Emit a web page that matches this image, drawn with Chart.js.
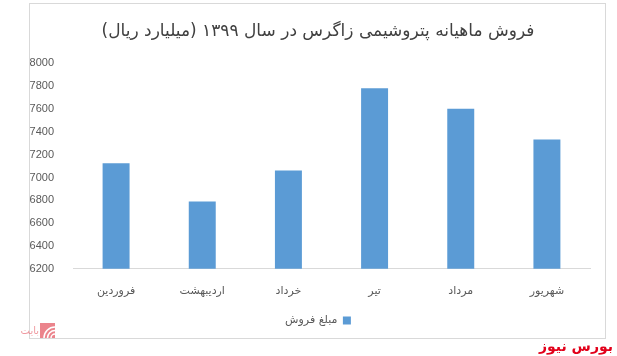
<!DOCTYPE html>
<html>
<head>
<meta charset="utf-8">
<script src="https://cdn.jsdelivr.net/npm/chart.js@4/dist/chart.umd.min.js"></script>
<style>
  html, body { margin: 0; padding: 0; background: #ffffff; }
  #wrap { width: 617px; height: 356px; position: relative; }
</style>
</head>
<body>
<div id="wrap"><canvas id="c" width="617" height="356"></canvas></div>
<script>
const titleText = "فروش ماهیانه پتروشیمی زاگرس در سال ۱۳۹۹ (میلیارد ریال)";
const categories = ["فروردین", "اردیبهشت", "خرداد", "تیر", "مرداد", "شهریور"];
const seriesName = "مبلغ فروش";
const salesValues = [7126, 6790, 7062, 7783, 7603, 7334];
const yMin = 6200;
const yMax = 8000;
const yStep = 200;

const decor = {
  id: 'decor',
  beforeDraw(chart) {
    const ctx = chart.ctx;
    ctx.save();
    ctx.fillStyle = '#ffffff';
    ctx.fillRect(0, 0, chart.width, chart.height);
    ctx.strokeStyle = '#D9D9D9';
    ctx.lineWidth = 1;
    ctx.strokeRect(29.5, 3.5, 576, 335);
    ctx.restore();
  },
  afterDraw(chart) {
    const ctx = chart.ctx;
    ctx.save();
    ctx.fillStyle = 'rgba(232,110,120,0.85)';
    ctx.fillRect(40, 323, 15, 15);
    ctx.strokeStyle = '#ffffff';
    ctx.lineWidth = 1.5;
    for (let i = 0; i < 3; i++) {
      ctx.beginPath();
      ctx.arc(55, 338, 4 + i * 3.5, Math.PI, 1.5 * Math.PI);
      ctx.stroke();
    }
    ctx.fillStyle = 'rgba(232,110,120,0.7)';
    ctx.font = '10px "DejaVu Sans"';
    ctx.textAlign = 'right';
    ctx.textBaseline = 'middle';
    ctx.fillText('بایت', 39, 331);
    ctx.fillStyle = '#E2001A';
    ctx.font = 'bold 14px "DejaVu Sans"';
    ctx.textAlign = 'right';
    ctx.textBaseline = 'middle';
    ctx.fillText('بورس نیوز', 613, 347);
    ctx.restore();
  }
};

new Chart(document.getElementById('c'), {
  type: 'bar',
  data: {
    labels: categories,
    datasets: [{
      label: seriesName,
      data: salesValues,
      backgroundColor: '#5B9BD5',
      borderWidth: 0,
      categoryPercentage: 1.0,
      barPercentage: 0.313
    }]
  },
  options: {
    responsive: false,
    animation: false,
    devicePixelRatio: 1,
    layout: { padding: { left: 30, right: 11, top: 21, bottom: 20 } },
    plugins: {
      title: {
        display: true,
        text: titleText,
        color: '#404040',
        font: { family: '"DejaVu Sans"', size: 17, weight: 'normal' },
        padding: { top: 0, bottom: 22 }
      },
      legend: {
        display: true,
        position: 'bottom',
        rtl: true,
        labels: {
          color: '#595959',
          font: { family: '"DejaVu Sans"', size: 11 },
          boxWidth: 8,
          boxHeight: 8,
          padding: 10
        }
      },
      tooltip: { enabled: false }
    },
    scales: {
      x: {
        grid: { display: false },
        border: { display: true, color: '#D9D9D9', width: 1 },
        ticks: {
          color: '#595959',
          font: { family: '"DejaVu Sans"', size: 11 },
          padding: 8,
          maxRotation: 0
        },
        afterFit(scale) { scale.height = scale.height - 1; }
      },
      y: {
        min: yMin,
        max: yMax,
        grid: { display: false },
        border: { display: false },
        ticks: {
          stepSize: yStep,
          color: '#595959',
          font: { family: '"Liberation Sans"', size: 11 },
          padding: 11,
          callback: (v) => String(v)
        },
        afterFit(scale) { scale.width = 43; }
      },
      yPad: {
        type: 'linear',
        position: 'right',
        display: true,
        grid: { display: false },
        border: { display: false },
        ticks: { display: false },
        afterFit(scale) { scale.width = 16; }
      }
    }
  },
  plugins: [decor]
});
</script>
</body>
</html>
